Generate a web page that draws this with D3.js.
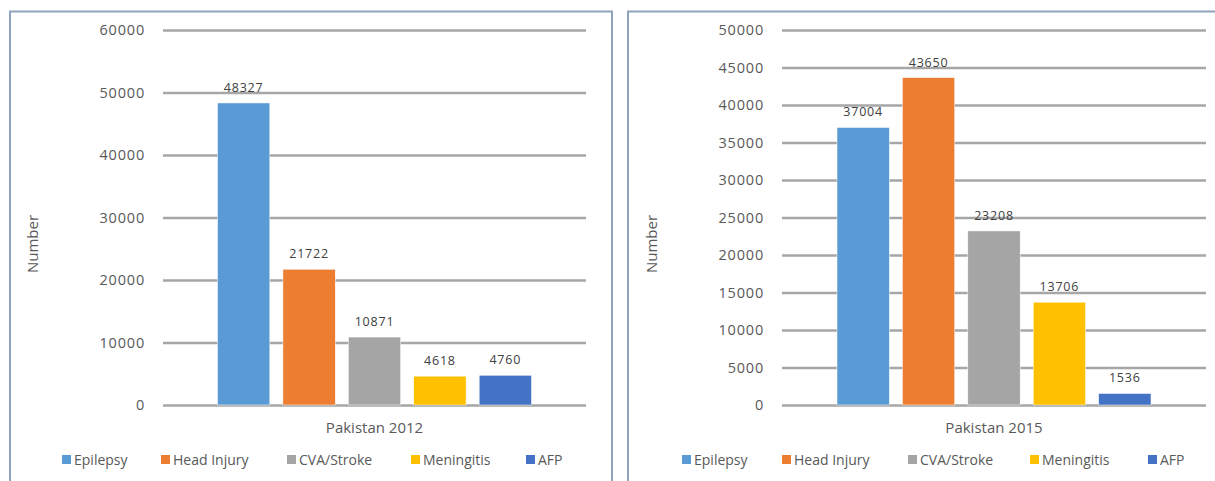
<!DOCTYPE html>
<html><head><meta charset="utf-8">
<script src="https://cdn.jsdelivr.net/npm/d3@7"></script>
<style>body{margin:0;background:#fff;}svg{display:block;font-family:"Open Sans",sans-serif;}</style>
</head><body><svg id="c" width="1215" height="481"></svg>
<script>
const categories = ["Epilepsy","Head Injury","CVA/Stroke","Meningitis","AFP"];
const colors = ["#5B9BD5","#ED7D31","#A5A5A5","#FFC000","#4472C4"];
const values2012 = [48327,21722,10871,4618,4760];
const values2015 = [37004,43650,23208,13706,1536];
const ticks2012 = [0,10000,20000,30000,40000,50000,60000];
const ticks2015 = [0,5000,10000,15000,20000,25000,30000,35000,40000,45000,50000];
const titles = ["Pakistan 2012","Pakistan 2015"];

const svg = d3.select("#c");
// panel borders
svg.append("path").attr("d","M10,481 L10,11.5 L612,11.5 L612,481").attr("fill","none").attr("stroke","#8FA3BC").attr("stroke-width",2);
svg.append("path").attr("d","M628,481 L628,11.5 L1215,11.5").attr("fill","none").attr("stroke","#8FA3BC").attr("stroke-width",2);

const panels = [
  {x0:163,x1:586,vals:values2012,ticks:ticks2012,max:60000,title:titles[0],ylab:33,legend:[62,161,287,411,526]},
  {x0:782,x1:1206,vals:values2015,ticks:ticks2015,max:50000,title:titles[1],ylab:652,legend:[682,782,908,1030,1148]}
];
const plotTop=30, plotBot=405;
panels.forEach(p=>{
  const g = svg.append("g");
  const y = d3.scaleLinear().domain([0,p.max]).range([plotBot,plotTop]);
  const cx = (p.x0+p.x1)/2;
  const x = d3.scaleBand().domain(categories).range([cx-157,cx+157]).paddingInner(0.2);
  const ax = g.append("g").attr("transform",`translate(${p.x0},0)`)
    .call(d3.axisLeft(y).tickValues(p.ticks).tickSize(-(p.x1-p.x0)).tickPadding(18).tickFormat(d3.format("d")));
  ax.select(".domain").remove();
  ax.selectAll(".tick line").attr("stroke","#A6A6A6").attr("stroke-width",2.4);
  ax.selectAll(".tick text").attr("fill","#595959").attr("font-size",14.5).attr("letter-spacing",0.8).attr("font-family","'Open Sans',sans-serif");
  g.selectAll("rect.bar").data(p.vals).enter().append("rect")
    .attr("x",(d,i)=>x(categories[i])).attr("width",x.bandwidth())
    .attr("y",d=>y(d)).attr("height",d=>plotBot-y(d))
    .attr("fill",(d,i)=>colors[i]).attr("stroke","#fff").attr("stroke-width",0.5);
  g.selectAll("text.lab").data(p.vals).enter().append("text")
    .attr("x",(d,i)=>x(categories[i])+x.bandwidth()/2).attr("y",d=>y(d)-11)
    .attr("text-anchor","middle").attr("font-size",12.5).attr("letter-spacing",0.8).attr("fill","#404040").text(d=>d);
  g.append("text").attr("x",cx).attr("y",433).attr("text-anchor","middle").attr("font-size",15).attr("fill","#595959").text(p.title);
  g.append("text").attr("transform",`translate(${p.ylab+5},244) rotate(-90)`).attr("text-anchor","middle").attr("font-size",15).attr("fill","#595959").text("Number");
  categories.forEach((c,i)=>{
    g.append("rect").attr("x",p.legend[i]).attr("y",455).attr("width",9).attr("height",9).attr("fill",colors[i]);
    g.append("text").attr("x",p.legend[i]+12).attr("y",465).attr("font-size",14).attr("fill","#595959").text(c);
  });
});
</script></body></html>
